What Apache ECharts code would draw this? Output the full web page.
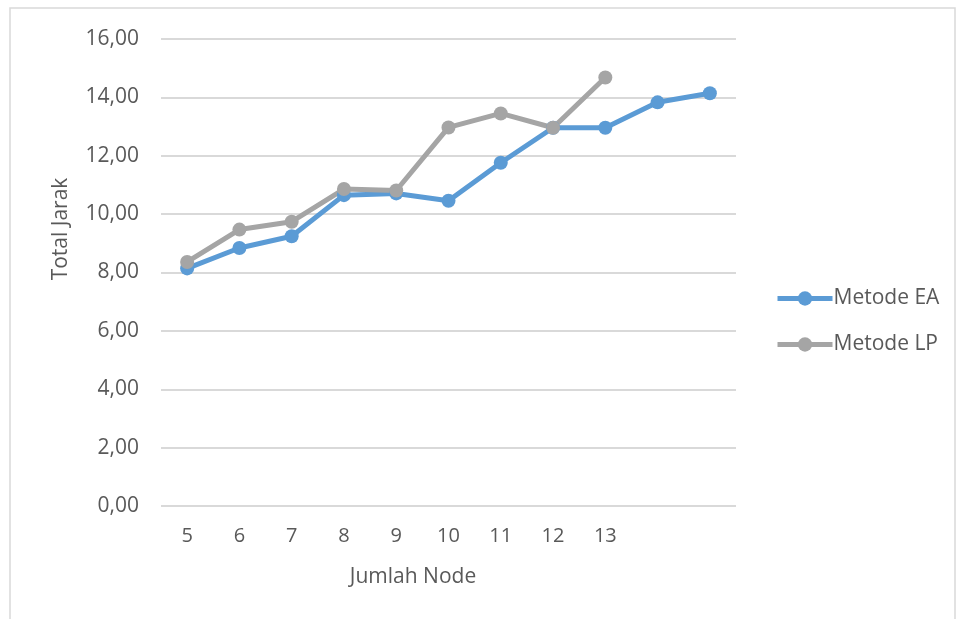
<!DOCTYPE html>
<html>
<head>
<meta charset="utf-8">
<script src="https://cdn.jsdelivr.net/npm/echarts@6/dist/echarts.min.js"></script>
<style>
  html, body { margin: 0; padding: 0; background: #fff; }
  #chart { width: 957px; height: 619px; }
</style>
</head>
<body>
<div id="chart"></div>
<script>
// jumlah node (two last points of EA have no label)
var nodeLabels = ['5', '6', '7', '8', '9', '10', '11', '12', '13', '', ''];
var metodeEA = [8.14, 8.84, 9.24, 10.65, 10.71, 10.46, 11.76, 12.96, 12.96, 13.83, 14.14];
var metodeLP = [8.36, 9.47, 9.74, 10.86, 10.81, 12.97, 13.45, 12.96, 14.68];

var textColor = '#595959';
var font = '"Open Sans", "Noto Sans", sans-serif';

var chart = echarts.init(document.getElementById('chart'));

var option = {
    animation: false,
    textStyle: { fontFamily: font, color: textColor },
    grid: { left: 161, right: 221, top: 39, bottom: 113, containLabel: false },
    legend: {
        orient: 'vertical',
        left: 775,
        top: 288,
        padding: 0,
        itemWidth: 55,
        itemHeight: 18,
        itemGap: 25,
        lineStyle: { width: 5 },
        textStyle: { fontFamily: font, fontSize: 21, color: textColor, padding: [0, 0, 0, -4] },
        data: ['Metode EA', 'Metode LP']
    },
    xAxis: {
        type: 'category',
        data: nodeLabels,
        boundaryGap: true,
        axisLine: { show: false },
        axisTick: { show: false },
        axisLabel: { fontSize: 20, color: textColor, margin: 20 }
    },
    yAxis: {
        type: 'value',
        min: 0,
        max: 16,
        interval: 2,
        axisLine: { show: false },
        axisTick: { show: false },
        axisLabel: {
            fontSize: 21,
            color: textColor,
            margin: 22,
            formatter: function (v) { return v.toFixed(2).replace('.', ','); }
        },
        splitLine: { lineStyle: { color: '#d9d9d9', width: 2 } }
    },
    series: [
        {
            name: 'Metode EA',
            type: 'line',
            data: metodeEA,
            symbol: 'circle',
            symbolSize: 14,
            lineStyle: { width: 5, color: '#5b9bd5' },
            itemStyle: { color: '#5b9bd5' }
        },
        {
            name: 'Metode LP',
            type: 'line',
            data: metodeLP,
            symbol: 'circle',
            symbolSize: 14,
            lineStyle: { width: 5, color: '#a5a5a5' },
            itemStyle: { color: '#a5a5a5' }
        }
    ],
    graphic: [
        {
            type: 'rect',
            shape: { x: 10, y: 8, width: 945, height: 640 },
            style: { fill: 'none', stroke: '#d9d9d9', lineWidth: 1.5 },
            silent: true
        },
        {
            type: 'text',
            x: 413,
            y: 577,
            style: {
                text: 'Jumlah Node',
                fontFamily: font,
                fontSize: 21,
                fill: textColor,
                align: 'center',
                verticalAlign: 'middle'
            }
        },
        {
            type: 'text',
            x: 61,
            y: 229,
            rotation: Math.PI / 2,
            style: {
                text: 'Total Jarak',
                fontFamily: font,
                fontSize: 21,
                fill: textColor,
                align: 'center',
                verticalAlign: 'middle'
            }
        }
    ]
};

chart.setOption(option);
</script>
</body>
</html>
